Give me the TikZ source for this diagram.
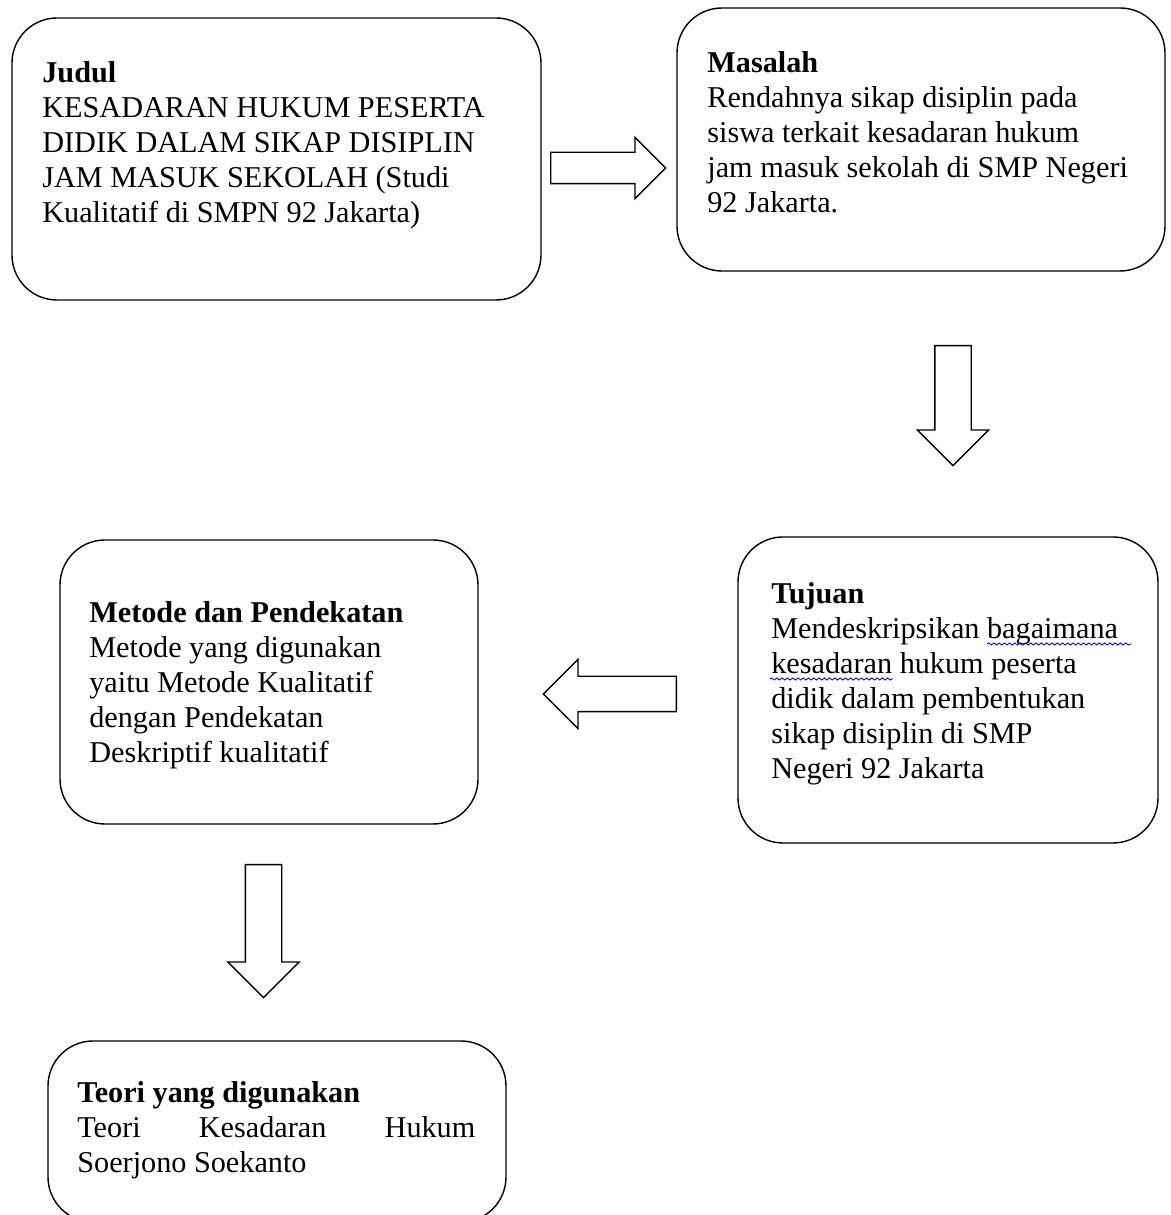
\documentclass[tikz,border=0pt]{standalone}
\usepackage{fontspec}
\setmainfont{Liberation Serif}
\usepackage{tikz}
\usetikzlibrary{shapes.arrows, decorations.pathmorphing}
\tikzset{
  flowbox/.style={draw, line width=0.8pt, rounded corners=0.9cm},
  flowtext/.style={anchor=north west, inner sep=0pt, align=flush left,
    font=\fontsize{17.2pt}{19.9pt}\selectfont},
  blockarrow/.style={draw, single arrow, line width=0.8pt, fill=white, anchor=tail},
  spellwave/.style={draw=blue, line width=0.5pt,
    decorate, decoration={snake, amplitude=0.6pt, segment length=3pt}}
}

\begin{document}
\begin{tikzpicture}
\useasboundingbox (0,0) rectangle (23.42,24.3);

\node[flowbox, minimum width=10.58cm, minimum height=5.64cm] (judulbox) at (5.53,21.12) {};
\node[flowbox, minimum width=9.76cm, minimum height=5.26cm] (masalahbox) at (18.42,21.51) {};
\node[flowbox, minimum width=8.4cm, minimum height=6.12cm] (tujuanbox) at (18.96,10.5) {};
\node[flowbox, minimum width=8.36cm, minimum height=5.68cm] (metodebox) at (5.38,10.66) {};
\node[flowbox, minimum width=9.16cm, minimum height=3.62cm] (teoribox) at (5.54,1.67) {};

\node[flowtext] (judul) at (0.84,23.07)
  {\textbf{Judul}\\KESADARAN HUKUM PESERTA\\DIDIK DALAM SIKAP DISIPLIN\\JAM MASUK SEKOLAH (Studi\\Kualitatif di SMPN 92 Jakarta)};
\node[flowtext] (masalah) at (14.14,23.27)
  {\textbf{Masalah}\\Rendahnya sikap disiplin pada\\siswa terkait kesadaran hukum\\jam masuk sekolah di SMP Negeri\\92 Jakarta.};
\node[flowtext] (tujuan) at (15.42,12.65)
  {\textbf{Tujuan}\\Mendeskripsikan bagaimana\\kesadaran hukum peserta\\didik dalam pembentukan\\sikap disiplin di SMP\\Negeri 92 Jakarta};
\node[flowtext] (metode) at (1.78,12.27)
  {\textbf{Metode dan Pendekatan}\\Metode yang digunakan\\yaitu Metode Kualitatif\\dengan Pendekatan\\Deskriptif kualitatif};
\node[flowtext, text width=7.96cm] (teori) at (1.54,2.67)
  {\textbf{Teori yang digunakan}\\Teori\hfill Kesadaran\hfill Hukum\\Soerjono Soekanto};

\draw[spellwave] (19.74,11.42) -- (22.64,11.42);
\draw[spellwave] (15.40,10.72) -- (17.86,10.72);

\node[blockarrow, inner sep=0.3cm, minimum height=2.3cm,
  single arrow head extend=0.3cm] (ke-masalah) at (11.0,20.94) {};
\node[blockarrow, inner sep=0.35cm, minimum height=2.4cm,
  single arrow head extend=0.35cm, shape border rotate=270] (ke-tujuan) at (19.06,17.4) {};
\node[blockarrow, inner sep=0.34cm, minimum height=2.66cm,
  single arrow head extend=0.34cm, shape border rotate=180] (ke-metode) at (13.54,10.42) {};
\node[blockarrow, inner sep=0.35cm, minimum height=2.66cm,
  single arrow head extend=0.35cm, shape border rotate=270] (ke-teori) at (5.27,7.02) {};
\end{tikzpicture}
\end{document}
